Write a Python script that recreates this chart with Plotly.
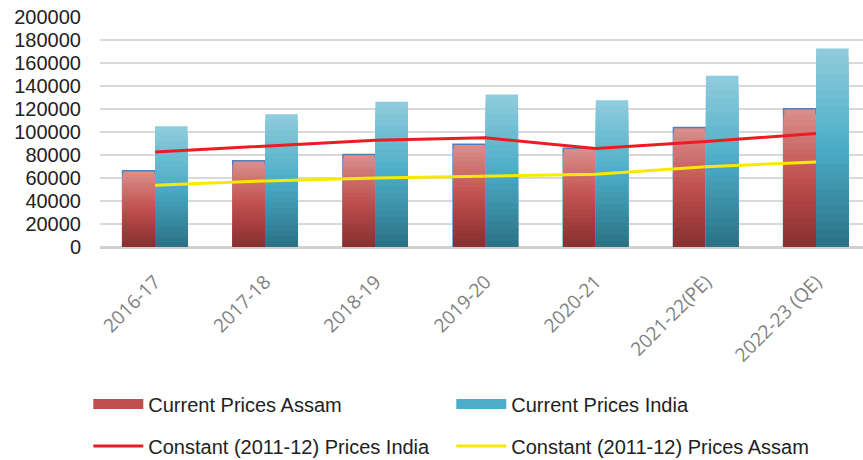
import plotly.graph_objects as go

categories = ["2016-17", "2017-18", "2018-19", "2019-20", "2020-21", "2021-22(PE)", "2022-23 (QE)"]
current_assam = [66200, 74900, 80400, 89400, 85900, 104000, 120200]
current_india = [105100, 115500, 126300, 132700, 127700, 148900, 172700]
constant_india = [82700, 87500, 92900, 94900, 85700, 91800, 98700]
constant_assam = [53700, 57500, 60100, 61800, 63300, 69700, 74000]
y_ticks = [0, 20000, 40000, 60000, 80000, 100000, 120000, 140000, 160000, 180000, 200000]


def hex2rgb(h):
    h = h.lstrip("#")
    return tuple(int(h[i:i + 2], 16) for i in (0, 2, 4))


def grad(stops, t):
    for (p0, c0), (p1, c1) in zip(stops[:-1], stops[1:]):
        if p0 <= t <= p1:
            f = (t - p0) / (p1 - p0) if p1 > p0 else 0
            a, b = hex2rgb(c0), hex2rgb(c1)
            return "rgb(%d,%d,%d)" % tuple(round(a[i] + (b[i] - a[i]) * f) for i in range(3))
    return stops[-1][1]


assam_stops = [(0, "#d98e8c"), (0.5, "#c0504d"), (1, "#893030")]
india_stops = [(0, "#8ecbdc"), (0.5, "#4badc7"), (1, "#2c7386")]

K = 24
BW = 0.295
fig = go.Figure()

for series, stops, off, outline in [
    (current_assam, assam_stops, -BW, True),
    (current_india, india_stops, 0.0, False),
]:
    for k in range(K):
        frac = (K - k) / K
        t = k / (K - 1)
        fig.add_trace(go.Bar(
            x=categories, y=[v * frac for v in series],
            width=BW, offset=off,
            marker=dict(color=grad(stops, t),
                        line=dict(color="#4f81bd", width=1.5) if (outline and k == 0) else dict(width=0)),
            showlegend=False, hoverinfo="skip",
        ))

fig.add_trace(go.Scatter(x=categories, y=constant_india, mode="lines",
                         line=dict(color="#ed1c24", width=3), showlegend=False,
                         name="Constant (2011-12) Prices India"))
fig.add_trace(go.Scatter(x=categories, y=constant_assam, mode="lines",
                         line=dict(color="#f7ea00", width=3), showlegend=False,
                         name="Constant (2011-12) Prices Assam"))

# legend entries
fig.add_trace(go.Scatter(x=[None], y=[None], mode="lines", name="Current Prices Assam",
                         line=dict(color="#c0504d", width=12), legend="legend"))
fig.add_trace(go.Scatter(x=[None], y=[None], mode="lines", name="Current Prices India",
                         line=dict(color="#4badc7", width=12), legend="legend"))
fig.add_trace(go.Scatter(x=[None], y=[None], mode="lines", name="Constant (2011-12) Prices India",
                         line=dict(color="#ed1c24", width=3), legend="legend2"))
fig.add_trace(go.Scatter(x=[None], y=[None], mode="lines", name="Constant (2011-12) Prices Assam",
                         line=dict(color="#f7ea00", width=3), legend="legend2"))

legend_font = dict(family="Liberation Sans, Arial, sans-serif", size=20, color="#222222")
lx = 88.3 / 863
fig.update_layout(
    width=863, height=460,
    margin=dict(l=100, r=0, t=17, b=213),
    paper_bgcolor="white", plot_bgcolor="white",
    barmode="overlay",
    xaxis=dict(type="category", range=[-0.5, 6.426], showgrid=False, showline=False,
               ticks="", tickangle=-45, automargin=False, ticklabelstandoff=19,
               tickfont=dict(family="Open Sans, sans-serif", size=19, color="#7f7f7f")),
    yaxis=dict(range=[0, 200000], tickvals=y_ticks, ticktext=[str(v) for v in y_ticks],
               showgrid=True, gridcolor="#d9d9d9", gridwidth=2,
               zeroline=True, zerolinecolor="#d0d0d0", zerolinewidth=3,
               ticklabelstandoff=18, automargin=False,
               tickfont=dict(family="Liberation Sans, Arial, sans-serif", size=20, color="#222222")),
    legend=dict(orientation="h", xref="container", yref="container", x=lx, y=1 - 404 / 460,
                yanchor="middle", xanchor="left", entrywidth=298, itemwidth=50,
                font=legend_font, bgcolor="rgba(0,0,0,0)"),
    legend2=dict(orientation="h", xref="container", yref="container", x=lx, y=1 - 446 / 460,
                 yanchor="middle", xanchor="left", entrywidth=298, itemwidth=50,
                 font=legend_font, bgcolor="rgba(0,0,0,0)"),
)

fig.write_html("out.html", config={"displayModeBar": False},
               post_script="document.body.style.margin='0';")
